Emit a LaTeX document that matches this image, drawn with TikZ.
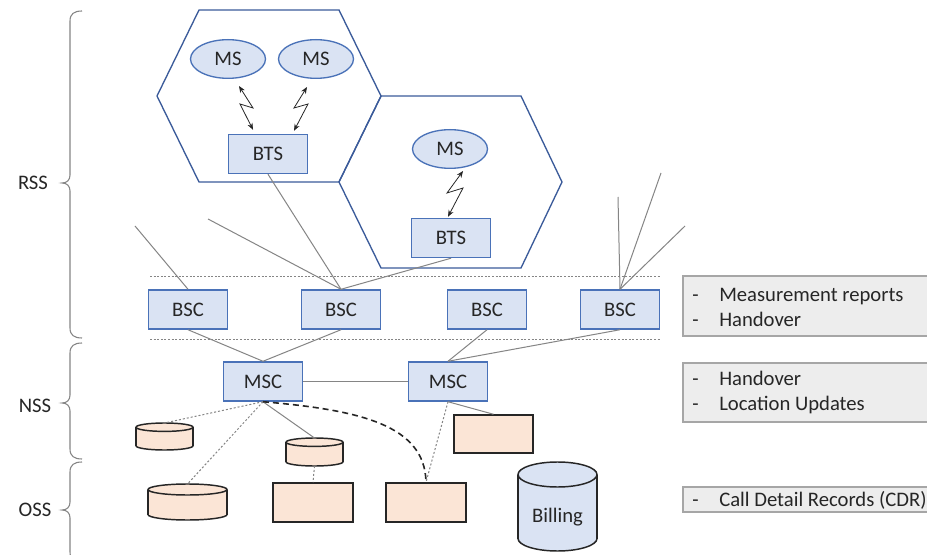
\documentclass[tikz,border=0pt]{standalone}
\usepackage{fontspec}
\setmainfont{Carlito}
\usetikzlibrary{arrows.meta,shapes.geometric,calc}

\definecolor{boxblue}{HTML}{DAE3F3}
\definecolor{edgeblue}{HTML}{4A72B8}
\definecolor{cellblue}{HTML}{3B5B9A}
\definecolor{peach}{HTML}{FBE5D6}
\definecolor{wiregray}{HTML}{858585}
\definecolor{panelfill}{HTML}{EDEDED}
\definecolor{panelline}{HTML}{A6A6A6}
\definecolor{inkdark}{HTML}{262626}

% database drum: name, centre x, top y, bottom y, half width, ellipse radius, fill
\newcommand\drumshape[7]{%
  \draw[drumline,fill=#7] (#2,#4-#6) ellipse [x radius=#5, y radius=#6];
  \fill[#7] (#2-#5,#3+#6) rectangle (#2+#5,#4-#6);
  \draw[drumline] (#2-#5,#3+#6) -- (#2-#5,#4-#6) (#2+#5,#3+#6) -- (#2+#5,#4-#6);
  \draw[drumline,fill=#7] (#2,#3+#6) ellipse [x radius=#5, y radius=#6];
  \coordinate (#1-top) at (#2,#3);
  \coordinate (#1-bot) at (#2,#4);
}

% curly brace opening to the right, tip pointing left
\newcommand\sidebrace[3]{% top y, tip y, bottom y
  \draw[bracestyle] (82,#1) .. controls (74,#1) and (70,#1+3) .. (70,#1+10)
    -- (70,#2-8) .. controls (70,#2-3) and (67,#2) .. (62,#2)
    .. controls (67,#2) and (70,#2+3) .. (70,#2+8)
    -- (70,#3-10) .. controls (70,#3-3) and (74,#3) .. (82,#3);
}

\begin{document}
\begin{tikzpicture}[x=0.75pt,y=-0.75pt,
  font=\fontsize{15.5}{18.75}\selectfont, text=inkdark,
  netbox/.style={draw=edgeblue, fill=boxblue, line width=1.1pt,
    minimum width=59.25pt, minimum height=29.25pt, inner sep=0pt},
  msnode/.style={ellipse, draw=edgeblue, fill=boxblue, line width=1pt,
    minimum width=56.25pt, minimum height=29pt, inner sep=0pt},
  storebox/.style={draw=inkdark, fill=peach, line width=1.1pt,
    minimum width=60pt, minimum height=29.25pt, inner sep=0pt},
  drumline/.style={draw=inkdark, line width=1.1pt},
  cell/.style={draw=cellblue, line width=1pt, line join=miter},
  wire/.style={draw=wiregray, line width=0.75pt},
  dotwire/.style={draw=wiregray, line width=0.75pt, dash pattern=on 1.5pt off 1.5pt},
  tierline/.style={draw=wiregray, line width=0.75pt, dash pattern=on 1.5pt off 1.2pt},
  trunk/.style={draw=inkdark, line width=1.2pt, dash pattern=on 4.5pt off 3pt},
  zap/.style={draw=inkdark, line width=0.6pt, <->, >={Stealth[length=5pt,width=4pt]}},
  bracestyle/.style={draw=wiregray, line width=0.8pt},
  panelbox/.style={fill=panelfill},
  paneledge/.style={draw=panelline, line width=0.8pt},
]
\useasboundingbox (0,0) rectangle (927,555);
\fill[white] (0,0) rectangle (927,555);

% radio cells
\draw[cell] (199,10) -- (339,10) -- (381,96) -- (339,182) -- (199,182) -- (157,96) -- cycle;
\draw[cell] (381,96) -- (521,96) -- (562,182) -- (521,268) -- (381,268) -- (339,182) -- cycle;

% mobile stations and base transceivers
\node[msnode] (ms1) at (228,59) {MS};
\node[msnode] (ms2) at (316,59) {MS};
\node[netbox] (bts1) at (268,154) {BTS};
\node[msnode] (ms3) at (450,149) {MS};
\node[netbox] (bts2) at (451,238) {BTS};

% radio links
\draw[zap] ($(ms1.south)+(11,7)$) -- (253,108) -- (240,104) -- ($(bts1.north)+(-15,-4)$);
\draw[zap] ($(ms2.south)+(-9,8)$) -- (294,108) -- (308,104) -- ($(bts1.north)+(26,-3)$);
\draw[zap] ($(ms3.south)+(13,2)$) -- (447,193) -- (463,188) -- ($(bts2.north)+(-3,-1)$);

% base station controllers
\node[netbox] (bsc1) at (188,309.5) {BSC};
\node[netbox] (bsc2) at (341,309.5) {BSC};
\node[netbox] (bsc3) at (487,309.5) {BSC};
\node[netbox] (bsc4) at (620,309.5) {BSC};

% tier separators
\draw[tierline] (150,277) -- (660,277);
\draw[tierline] (150,340) -- (660,340);

% links towards further base stations
\coordinate (far1) at (135,226);
\coordinate (far2) at (208,219);
\coordinate (far3) at (618,197);
\coordinate (far4) at (661,173);
\coordinate (far5) at (685,226);
\draw[wire] (far1) -- (bsc1.north);
\draw[wire] (far2) -- (bsc2.north);
\draw[wire] (bts1.south) -- (bsc2.north);
\draw[wire] (bts2.south) -- (bsc2.north);
\draw[wire] (far3) -- (bsc4.north);
\draw[wire] (far4) -- (bsc4.north);
\draw[wire] (far5) -- (bsc4.north);

% switching centres
\node[netbox] (msc1) at (263,381.5) {MSC};
\node[netbox] (msc2) at (448,381.5) {MSC};
\draw[wire] (bsc1.south) -- (msc1.north);
\draw[wire] (bsc2.south) -- (msc1.north);
\draw[wire] (bsc3.south) -- (msc2.north);
\draw[wire] (bsc4.south) -- (msc2.north);
\draw[wire] (msc1) -- (msc2);

% registers and operation stores
\drumshape{db1}{164.5}{423}{450}{28.5}{4.2}{peach}
\drumshape{db2}{314.5}{438}{466}{28.5}{4.2}{peach}
\drumshape{db3}{187.5}{484}{520}{39.5}{5.5}{peach}
\drumshape{bill}{557.5}{462}{551}{39.5}{12.5}{boxblue}
\node (billing) at (557.5,517) {Billing};

\node[storebox] (st1) at (313,502.5) {};
\node[storebox] (st2) at (426,502.5) {};
\node[storebox, minimum width=59.25pt, minimum height=28.5pt] (st3) at (493.5,434) {};

\draw[dotwire] (msc1.south) -- (db1-top);
\draw[dotwire] (msc1.south) -- (db3-top);
\draw[wire] (msc1.south) -- (db2-top);
\draw[dotwire] (db2-bot) -- (st1.north);
\draw[trunk] (msc1.south) .. controls (360,410) and (425,425) .. (st2.north);
\draw[dotwire] (msc2.south) -- (st2.north);
\draw[wire] (msc2.south) -- (st3.north);

% subsystem braces
\sidebrace{11}{183}{338}
\sidebrace{343}{403}{459}
\sidebrace{462}{510}{562}
\node (rss) at (33,183) {RSS};
\node (nss) at (35,406) {NSS};
\node (oss) at (35,510) {OSS};

% signalling notes
\fill[panelbox] (683,276) rectangle (927,336);
\draw[paneledge] (927,276) -- (683,276) -- (683,336) -- (927,336);
\node[anchor=west, align=left, inner sep=0pt] (note1) at (692,307.5)
  {\makebox[20.25pt][l]{-}Measurement reports\\\makebox[20.25pt][l]{-}Handover};

\fill[panelbox] (683,363) rectangle (927,422);
\draw[paneledge] (927,363) -- (683,363) -- (683,422) -- (927,422);
\node[anchor=west, align=left, inner sep=0pt] (note2) at (692,392.5)
  {\makebox[20.25pt][l]{-}Handover\\\makebox[20.25pt][l]{-}Location Updates};

\fill[panelbox] (683,487) rectangle (927,512);
\draw[paneledge] (927,487) -- (683,487) -- (683,512) -- (927,512);
\node[anchor=west, align=left, inner sep=0pt] (note3) at (692,500)
  {\makebox[20.25pt][l]{-}Call Detail Records (CDR)};
\end{tikzpicture}
\end{document}
